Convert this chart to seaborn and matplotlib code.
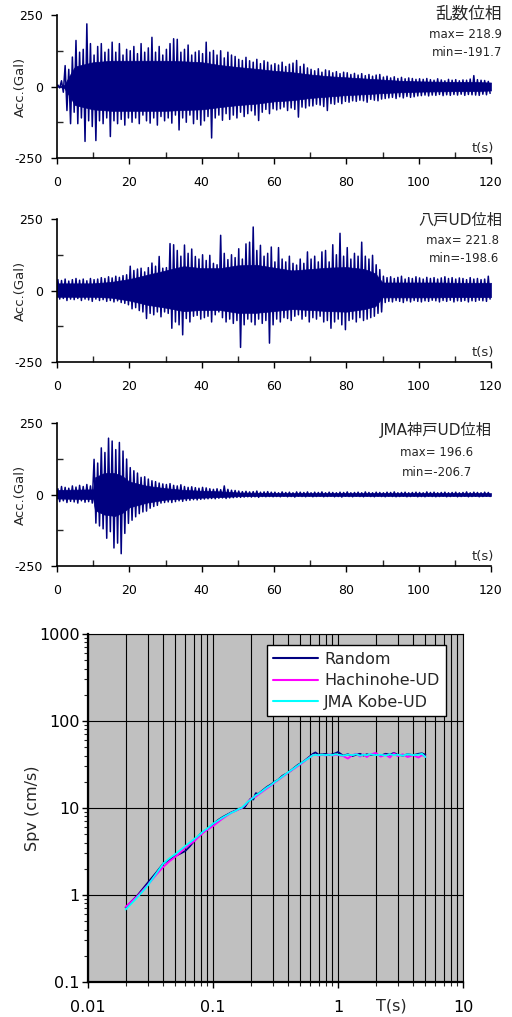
import numpy as np
import pandas as pd
import matplotlib
matplotlib.use("Agg")
import matplotlib.pyplot as plt
from matplotlib.ticker import FixedLocator, NullFormatter, LogLocator
import seaborn as sns

sns.set_theme(style="white")
plt.rcParams["font.family"] = ["DejaVu Sans", "Noto Sans CJK JP"]
plt.rcParams["axes.unicode_minus"] = False

# ---- acceleration records: peak (max) and trough (min) per 1-second window, Gal ----
random_max = [5, 20, 73, 60, 103, 161, 120, 130, 219, 150,
              110, 140, 150, 120, 130, 155, 120, 150, 110, 130,
              125, 140, 115, 150, 120, 135, 172, 120, 140, 110,
              130, 150, 167, 165, 120, 130, 145, 110, 120, 125,
              115, 155, 120, 126, 110, 125, 100, 120, 110, 105,
              95, 91, 102, 90, 85, 95, 80, 90, 85, 75,
              80, 75, 85, 70, 78, 82, 91, 70, 78, 65,
              60, 55, 62, 50, 58, 55, 48, 52, 45, 50,
              48, 42, 46, 40, 45, 38, 42, 36, 40, 42,
              33, 36, 30, 34, 28, 32, 27, 30, 28, 25,
              27, 25, 28, 24, 22, 27, 23, 20, 25, 22,
              24, 20, 23, 22, 26, 38, 24, 22, 21, 18]
random_min = [-5, -20, -84, -130, -90, -130, -110, -192, -120, -140,
              -189, -120, -130, -110, -175, -120, -130, -115, -135, -110,
              -125, -110, -130, -100, -120, -128, -110, -135, -105, -120,
              -110, -128, -100, -152, -110, -125, -100, -130, -115, -135,
              -120, -105, -180, -110, -100, -118, -95, -115, -100, -110,
              -90, -105, -95, -85, -100, -119, -90, -80, -95, -78,
              -82, -78, -72, -84, -75, -80, -107, -72, -75, -68,
              -68, -62, -65, -70, -84, -60, -62, -55, -60, -52,
              -55, -50, -52, -48, -50, -55, -45, -48, -50, -44,
              -42, -40, -38, -42, -36, -40, -35, -38, -36, -33,
              -32, -30, -33, -30, -31, -28, -32, -29, -31, -28,
              -30, -27, -31, -28, -29, -30, -31, -27, -29, -24]
# dense core of the record (level the trace fills solidly), Gal
random_core_t = [0, 2, 4, 5, 10, 15, 20, 25, 30, 35, 40, 45, 50, 55, 60,
                 65, 70, 75, 80, 85, 90, 95, 100, 105, 110, 115, 120]
random_core_hi = [0, 5, 50, 70, 85, 90, 90, 90, 90, 88, 85, 75, 68, 62, 55,
                  50, 42, 36, 32, 28, 24, 20, 18, 17, 16, 16, 14]
random_core_lo = [0, -5, -45, -65, -80, -85, -85, -85, -85, -82, -80, -72, -65, -60, -52,
                  -48, -40, -35, -30, -27, -23, -20, -18, -17, -16, -16, -14]

hachi_max = [38, 35, 40, 33, 38, 42, 36, 40, 34, 42,
             38, 40, 45, 42, 48, 44, 50, 46, 52, 55,
             85, 70, 75, 78, 65, 80, 96, 85, 119, 78,
             80, 164, 160, 140, 120, 159, 130, 145, 119, 110,
             125, 105, 123, 95, 90, 193, 130, 108, 125, 115,
             146, 110, 163, 169, 222, 140, 158, 120, 130, 152,
             100, 150, 110, 100, 120, 95, 89, 110, 95, 135,
             110, 120, 100, 135, 140, 100, 160, 125, 200, 120,
             150, 110, 130, 120, 169, 120, 110, 123, 90, 73,
             50, 45, 48, 42, 46, 50, 40, 45, 42, 48,
             44, 40, 46, 42, 45, 40, 44, 48, 42, 45,
             40, 44, 42, 38, 45, 40, 42, 38, 40, 50]
hachi_min = [-30, -28, -35, -30, -32, -28, -35, -30, -33, -38,
             -30, -35, -32, -38, -35, -40, -36, -42, -45, -50,
             -64, -60, -70, -75, -98, -80, -85, -75, -92, -75,
             -80, -132, -110, -120, -155, -98, -110, -90, -87, -100,
             -95, -90, -110, -85, -75, -95, -110, -100, -115, -105,
             -199, -120, -100, -110, -120, -100, -115, -105, -184, -120,
             -100, -110, -95, -98, -105, -90, -85, -100, -90, -110,
             -95, -100, -90, -110, -105, -132, -110, -100, -120, -137,
             -105, -100, -110, -95, -105, -100, -95, -90, -80, -75,
             -42, -38, -40, -35, -38, -42, -36, -40, -35, -38,
             -40, -36, -38, -34, -36, -40, -35, -38, -34, -40,
             -36, -38, -35, -40, -36, -38, -34, -36, -38, -30]
hachi_core_t = [0, 5, 10, 15, 20, 25, 30, 35, 40, 45, 50, 55, 60,
                65, 70, 75, 80, 85, 88, 90, 95, 100, 105, 110, 115, 120]
hachi_core_hi = [25, 25, 25, 30, 40, 55, 70, 85, 78, 78, 88, 90, 80,
                 70, 75, 80, 82, 75, 60, 28, 28, 28, 28, 27, 27, 27]
hachi_core_lo = [-22, -22, -22, -25, -35, -50, -60, -72, -68, -68, -78, -78, -72,
                 -65, -68, -72, -74, -65, -55, -24, -24, -24, -24, -23, -23, -23]

kobe_max = [20, 28, 25, 22, 30, 26, 32, 28, 35, 30,
            123, 110, 163, 147, 197, 187, 157, 182, 152, 124,
            94, 83, 75, 60, 62, 54, 48, 45, 40, 37,
            35, 38, 32, 30, 34, 28, 25, 27, 24, 22,
            25, 23, 20, 18, 20, 17, 30, 18, 15, 14,
            12, 10, 11, 9, 10, 12, 8, 9, 10, 8,
            8, 6, 9, 7, 8, 6, 9, 8, 7, 9,
            6, 8, 7, 9, 6, 8, 7, 6, 8, 7,
            9, 6, 7, 8, 6, 9, 7, 6, 8, 7,
            6, 8, 7, 9, 6, 7, 8, 6, 7, 8,
            7, 6, 9, 7, 8, 6, 7, 8, 6, 7,
            8, 6, 7, 9, 6, 8, 7, 6, 8, 7]
kobe_min = [-25, -22, -28, -24, -26, -30, -22, -27, -25, -30,
            -100, -110, -120, -153, -130, -187, -170, -207, -136, -101,
            -90, -78, -67, -61, -58, -48, -42, -38, -30, -28,
            -26, -28, -25, -22, -24, -21, -20, -18, -19, -17,
            -16, -15, -14, -15, -13, -12, -14, -12, -11, -10,
            -10, -9, -8, -9, -8, -10, -7, -8, -7, -8,
            -7, -8, -6, -8, -7, -9, -6, -7, -8, -6,
            -8, -7, -6, -8, -7, -6, -8, -7, -9, -6,
            -7, -8, -6, -7, -8, -6, -7, -8, -6, -7,
            -8, -6, -7, -8, -7, -6, -8, -7, -6, -8,
            -7, -8, -6, -7, -8, -7, -6, -8, -7, -6,
            -8, -7, -6, -8, -7, -6, -8, -7, -6, -7]
kobe_core_t = [0, 10, 10.5, 13, 16, 18, 20, 25, 30, 35, 40, 45, 50, 60, 120]
kobe_core_hi = [16, 18, 60, 75, 75, 65, 45, 30, 22, 16, 13, 11, 7, 5, 5]
kobe_core_lo = [-14, -16, -55, -70, -75, -65, -45, -28, -18, -14, -11, -9, -6, -5, -5]

records = [
    ("乱数位相", "max= 218.9", "min=-191.7", random_max, random_min,
     random_core_t, random_core_hi, random_core_lo),
    ("八戸UD位相", "max= 221.8", "min=-198.6", hachi_max, hachi_min,
     hachi_core_t, hachi_core_hi, hachi_core_lo),
    ("JMA神戸UD位相", "max= 196.6", "min=-206.7", kobe_max, kobe_min,
     kobe_core_t, kobe_core_hi, kobe_core_lo),
]

# ---- velocity response spectra ----
periods = [0.02, 0.025, 0.03, 0.035, 0.04, 0.045, 0.05, 0.055, 0.06, 0.065,
           0.07, 0.075, 0.08, 0.085, 0.09, 0.095, 0.1, 0.11, 0.12, 0.13,
           0.14, 0.15, 0.16, 0.17, 0.18, 0.19, 0.2, 0.21, 0.22, 0.23,
           0.25, 0.27, 0.29, 0.31, 0.33, 0.36, 0.4, 0.44, 0.48, 0.52,
           0.56, 0.6, 0.63, 0.66, 0.7, 0.75, 0.8, 0.85, 0.9, 0.95,
           1.0, 1.1, 1.2, 1.3, 1.4, 1.5, 1.6, 1.7, 1.8, 2.0,
           2.2, 2.4, 2.6, 2.8, 3.0, 3.3, 3.6, 4.0, 4.4, 4.7, 5.0]
spv_random = [0.72, 1.0, 1.38, 1.8, 2.3, 2.55, 2.8, 3.0, 3.2, 3.6,
              4.1, 4.6, 5.1, 5.4, 5.7, 6.1, 6.5, 7.3, 7.9, 8.4,
              8.9, 9.3, 9.7, 10.0, 10.3, 11.6, 12.8, 12.5, 14.8, 14.5,
              16.0, 17.5, 18.6, 20.0, 21.0, 23.5, 25.5, 28.5, 31.5, 33.5,
              36.5, 39.5, 42.0, 43.5, 41.0, 41.5, 41.8, 40.5, 41.5, 42.5,
              44.0, 40.0, 41.5, 39.5, 41.0, 42.0, 40.0, 41.5, 40.5, 41.5,
              40.0, 42.0, 41.0, 43.0, 41.0, 40.0, 41.5, 40.5, 42.0, 42.5, 41.0]
spv_hachi = [0.73, 0.98, 1.3, 1.7, 2.1, 2.45, 2.75, 3.1, 3.5, 3.8,
             4.1, 4.5, 4.9, 5.3, 5.6, 5.9, 6.2, 6.9, 7.6, 8.2,
             8.8, 9.2, 9.6, 10.0, 10.8, 11.8, 12.6, 13.3, 13.5, 14.2,
             15.5, 16.8, 18.0, 19.5, 20.8, 22.8, 25.5, 28.0, 30.5, 33.0,
             36.0, 38.5, 40.5, 41.0, 40.0, 41.0, 40.0, 41.5, 40.0, 41.0,
             40.5, 39.5, 37.0, 40.5, 42.0, 39.0, 41.5, 38.5, 41.0, 43.0,
             39.0, 41.0, 38.0, 42.5, 39.5, 41.5, 38.5, 40.5, 38.0, 40.5, 39.0]
spv_kobe = [0.68, 0.95, 1.28, 1.75, 2.3, 2.65, 2.95, 3.3, 3.65, 4.0,
            4.35, 4.7, 5.1, 5.5, 5.8, 6.2, 6.6, 7.2, 7.8, 8.3,
            8.8, 9.2, 9.7, 10.1, 10.9, 11.8, 12.4, 13.2, 14.0, 14.5,
            15.8, 17.2, 18.3, 19.8, 21.0, 23.0, 25.8, 28.3, 31.0, 33.5,
            36.0, 38.5, 40.5, 40.8, 40.5, 41.0, 40.5, 41.0, 40.5, 41.5,
            41.0, 40.0, 41.0, 40.5, 41.5, 40.0, 41.0, 40.5, 41.5, 40.5,
            41.0, 40.0, 41.5, 40.5, 41.0, 40.0, 41.5, 40.5, 41.0, 42.0, 38.5]
series_names = ["Random", "Hachinohe-UD", "JMA Kobe-UD"]
series_colors = ["#000080", "#FF00FF", "#00FFFF"]

W, H = 512, 1017
fig = plt.figure(figsize=(W / 100, H / 100), dpi=100)
fig.patch.set_facecolor("white")


def axes_px(left, top, right, bottom):
    return fig.add_axes([left / W, 1 - bottom / H, (right - left) / W, (bottom - top) / H])


def ftext(x, y, s, **kw):
    fig.text(x / W, 1 - y / H, s, **kw)


wave_color = "#000080"
panel_tops = [15, 219, 423]
panel_h = 143
text_rows = [(502, 502, 14, 34, 53, "right", 12),
             (502, 499, 220, 240, 258, "right", 11),
             (492, 437, 430, 452, 472, "center", 11)]

for rec, top, rows in zip(records, panel_tops, text_rows):
    title, smax, smin, amax, amin, core_t, core_hi, core_lo = rec
    ax = axes_px(57, top, 491, top + panel_h)
    n = len(amax)
    sec = np.arange(n, dtype=float)
    # solid core of the trace
    ax.fill_between(core_t, core_lo, core_hi, color=wave_color, lw=0.5)
    # stroke through each window's peak and trough
    t = np.r_[0.0, np.column_stack([sec + 0.25, sec + 0.75]).ravel()]
    a = np.r_[0.0, np.column_stack([amax, amin]).ravel()]
    df = pd.DataFrame({"t": t, "acc": a})
    sns.lineplot(data=df, x="t", y="acc", ax=ax, color=wave_color, lw=1.1,
                 sort=False, estimator=None)
    ax.set_xlim(0, 120)
    ax.set_ylim(-250, 250)
    ax.xaxis.set_major_locator(FixedLocator([0, 20, 40, 60, 80, 100, 120]))
    ax.xaxis.set_minor_locator(FixedLocator([10, 30, 50, 70, 90, 110]))
    ax.yaxis.set_major_locator(FixedLocator([-250, 0, 250]))
    ax.yaxis.set_minor_locator(FixedLocator([-125, 125]))
    ax.tick_params(which="major", direction="out", length=4, width=1, colors="black",
                   labelsize=9, bottom=True, left=True)
    ax.tick_params(axis="x", which="major", pad=9)
    ax.tick_params(axis="y", which="major", pad=6)
    ax.tick_params(which="minor", direction="in", length=4, width=1, bottom=True, left=True)
    for side in ("top", "right"):
        ax.spines[side].set_visible(False)
    for side in ("left", "bottom"):
        ax.spines[side].set_color("black")
        ax.spines[side].set_linewidth(1.2)
    ax.set_xlabel("")
    ax.set_ylabel("Acc.(Gal)", fontsize=9.5, labelpad=2)
    ax.yaxis.set_label_coords(-0.07, 0.5)
    ax.text(1.008, 0.02, "t(s)", transform=ax.transAxes, ha="right", va="bottom", fontsize=9.5)
    ax.set_facecolor("white")
    x_title, x_mm, y1, y2, y3, align, tsize = rows
    ftext(x_title, y1, title, ha="right", va="center", fontsize=tsize)
    ftext(x_mm, y2, smax, ha=align, va="center", fontsize=8.5)
    ftext(x_mm, y3, smin, ha=align, va="center", fontsize=8.5)

# ---- response spectrum panel ----
axs = axes_px(88, 634, 463, 982)
axs.set_facecolor("#C0C0C0")
spec = pd.concat([
    pd.DataFrame({"T": periods, "Spv": vals, "wave": name})
    for name, vals in zip(series_names, [spv_random, spv_hachi, spv_kobe])
])
sns.lineplot(data=spec, x="T", y="Spv", hue="wave", hue_order=series_names,
             palette=series_colors, ax=axs, lw=1.3, sort=False, estimator=None)
axs.set_xscale("log")
axs.set_yscale("log")
axs.set_xlim(0.01, 10)
axs.set_ylim(0.1, 1000)
axs.xaxis.set_major_locator(FixedLocator([0.01, 0.1, 1, 10]))
axs.xaxis.set_minor_locator(LogLocator(base=10, subs=np.arange(2, 10), numticks=20))
axs.xaxis.set_minor_formatter(NullFormatter())
axs.set_xticklabels(["0.01", "0.1", "1", "10"])
axs.yaxis.set_major_locator(FixedLocator([0.1, 1, 10, 100, 1000]))
axs.yaxis.set_minor_locator(LogLocator(base=10, subs=np.arange(2, 10), numticks=20))
axs.yaxis.set_minor_formatter(NullFormatter())
axs.set_yticklabels(["0.1", "1", "10", "100", "1000"])
axs.grid(True, which="both", axis="x", color="black", lw=0.8)
axs.grid(True, which="major", axis="y", color="black", lw=0.8)
axs.set_axisbelow(True)
axs.tick_params(which="major", direction="out", length=4, width=1, labelsize=11.5,
                bottom=True, left=True, colors="black")
axs.tick_params(axis="x", which="major", pad=9)
axs.tick_params(axis="y", which="major", pad=2)
axs.tick_params(which="minor", direction="out", length=3, width=0.8, bottom=True, left=True)
for side in ("top", "right"):
    axs.spines[side].set_color("black")
    axs.spines[side].set_linewidth(0.8)
for side in ("left", "bottom"):
    axs.spines[side].set_color("black")
    axs.spines[side].set_linewidth(1.6)
axs.set_xlabel("")
axs.set_ylabel("Spv (cm/s)", fontsize=11.5)
axs.yaxis.set_label_coords(-0.128, 0.5)
ftext(391, 1006, "T(s)", ha="center", va="center", fontsize=11.5)
leg = axs.legend(loc="upper right", bbox_to_anchor=(0.955, 0.968), borderaxespad=0,
                 fontsize=11.5, frameon=True, fancybox=False, framealpha=1,
                 edgecolor="black", handlelength=2.8, labelspacing=0.42,
                 borderpad=0.4, handletextpad=0.4, title=None)
leg.get_frame().set_linewidth(1.0)
for line in leg.get_lines():
    line.set_linewidth(1.5)

fig.savefig("out.png", dpi=100, facecolor="white")
